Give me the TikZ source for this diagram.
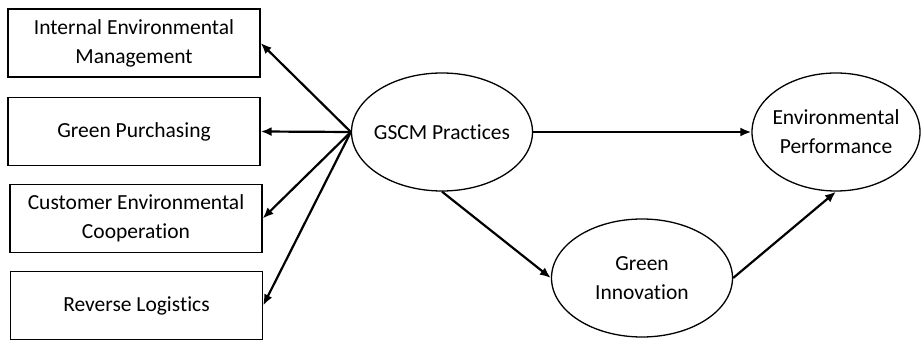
\documentclass[tikz,border=0pt]{standalone}
\usepackage{fontspec}
\setmainfont[RawFeature={-liga;-calt;-clig}]{Carlito}
\usetikzlibrary{shapes.geometric,arrows.meta}
\begin{document}
\begin{tikzpicture}[x=1pt,y=1pt,
  txt/.style={font=\fontsize{21.5}{29}\selectfont,align=center,text=black},
  factor/.style={txt,draw,line width=1.3pt,rectangle,minimum width=252pt,minimum height=68pt,inner sep=0pt},
  construct/.style={txt,draw,line width=1.3pt,ellipse,minimum width=181pt,minimum height=118pt,inner xsep=-6pt,inner ysep=0pt},
  link/.style={line width=2.2pt,-{Latex[length=11pt,width=9pt]}}]
\useasboundingbox (0,0) rectangle (922,342);
\fill[white] (0,0) rectangle (922,342);
% first-order dimensions
\node[factor] (ie) at (134,299) {Internal Environmental\\Management};
\node[factor] (gp) at (134,210.5) {Green Purchasing};
\node[factor] (ce) at (136,123.5) {Customer Environmental\\Cooperation};
\node[factor] (rl) at (136.5,36.5) {Reverse Logistics};
% latent constructs
\node[construct] (gscm) at (442,210) {GSCM Practices};
\node[construct,minimum width=168pt] (ep) at (836,210) {Environmental\\Performance};
\node[construct] (gi) at (642,64) {Green\\Innovation};
% paths
\draw[link] (gscm.west) -- (ie.east);
\draw[link] (gscm.west) -- (gp.east);
\draw[link] (gscm.west) -- (ce.east);
\draw[link] (gscm.west) -- (rl.east);
\draw[link] (gscm.east) -- (ep.west);
\draw[link] (gscm.south) -- (gi.west);
\draw[link] (gi.east) -- (ep.south);
\end{tikzpicture}
\end{document}
